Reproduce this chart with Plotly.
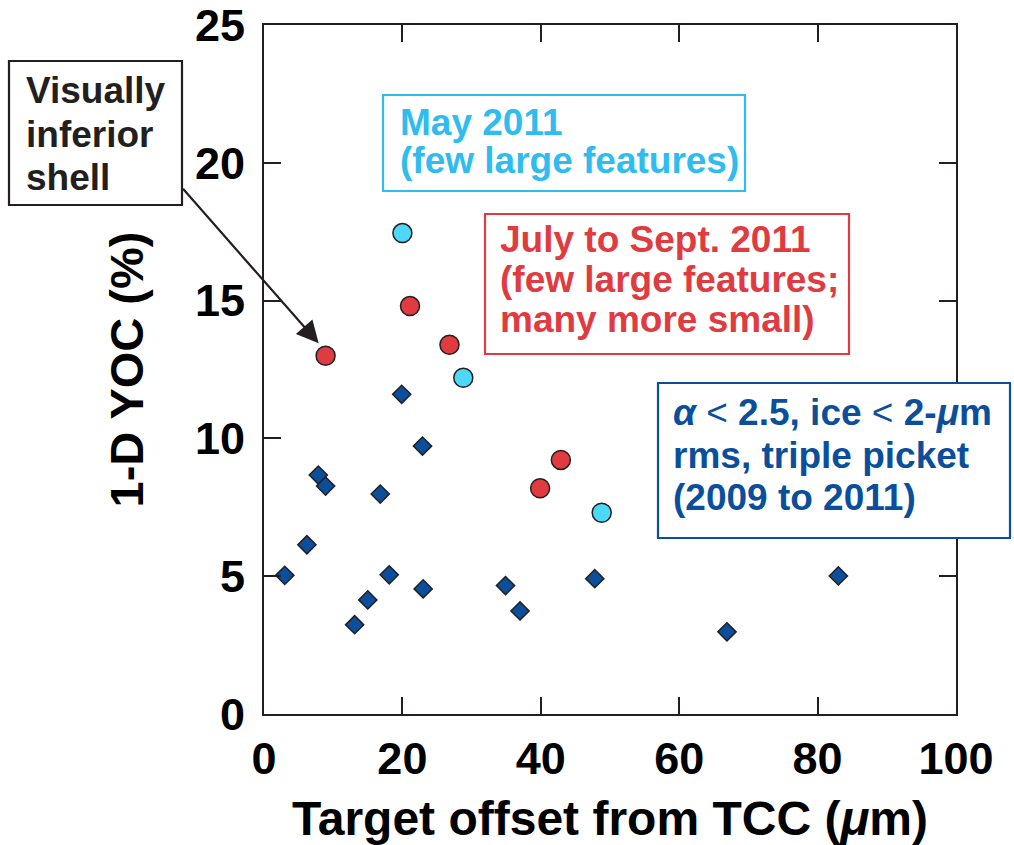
import plotly.graph_objects as go

# Target offset (um) vs 1-D YOC (%) for three shot groups
blue_x = [3.0, 6.2, 7.85, 8.9, 13.1, 15.0, 16.8, 18.1, 19.9, 22.9, 23.0, 34.9, 37.0, 47.8, 66.9, 83.0]
blue_y = [5.03, 6.14, 8.67, 8.27, 3.24, 4.14, 7.98, 5.05, 11.6, 9.72, 4.54, 4.66, 3.74, 4.91, 2.98, 5.01]
red_x = [8.9, 21.1, 26.8, 39.9, 42.9]
red_y = [13.0, 14.8, 13.4, 8.19, 9.22]
cyan_x = [20.0, 28.8, 48.8]
cyan_y = [17.45, 12.2, 7.30]

x_ticks = [0, 20, 40, 60, 80, 100]
y_ticks = [0, 5, 10, 15, 20, 25]

W, H = 1014, 845
L, R, T, B = 264, 956, 25, 714
FONT = "Liberation Sans"
INK = "#231F20"
BLUE = "#0B4F9C"
RED = "#E03B41"
CYAN_TXT = "#2FBCEE"
CYAN_FILL = "#4DD8FA"

fig = go.Figure()
fig.add_trace(go.Scatter(
    x=blue_x, y=blue_y, mode="markers", cliponaxis=False,
    marker=dict(symbol="diamond", size=14, color=BLUE, line=dict(color=INK, width=1.5)),
))
fig.add_trace(go.Scatter(
    x=red_x, y=red_y, mode="markers", cliponaxis=False,
    marker=dict(symbol="circle", size=19, color=RED, line=dict(color=INK, width=1.5)),
))
fig.add_trace(go.Scatter(
    x=cyan_x, y=cyan_y, mode="markers", cliponaxis=False,
    marker=dict(symbol="circle", size=19, color=CYAN_FILL, line=dict(color=INK, width=1.5)),
))


def px(xp):
    return (xp - L) / (R - L)


def py(yp):
    return (B - yp) / (B - T)


shapes = []
annotations = []


def text_box(x0, y0, x1, y1, color, text_left, baselines, lines, size=37):
    shapes.append(dict(type="rect", xref="paper", yref="paper",
                       x0=px(x0), x1=px(x1), y0=py(y1), y1=py(y0),
                       line=dict(color=color, width=2.2), fillcolor="white", layer="above"))
    for base, line in zip(baselines, lines):
        annotations.append(dict(
            xref="paper", yref="paper", x=px(text_left), y=py(base - 0.35 * size),
            xanchor="left", yanchor="middle", showarrow=False, text=line,
            font=dict(family=FONT, size=size, color=color, weight="bold"),
        ))


LT = "<span style='font-weight:normal'>&lt;</span>"

text_box(9, 61, 182, 205, INK, 24, [103, 147, 190],
         ["Visually", "inferior", "shell"])
text_box(383, 95, 745, 191, CYAN_TXT, 398, [135, 173],
         ["May 2011", "(few large features)"])
text_box(485, 214, 849, 354, RED, 498, [252, 292, 332],
         ["July to Sept. 2011", "(few large features;", "many more small)"])
text_box(658, 383, 1010, 538, BLUE, 671, [425, 468, 510],
         [f"<i>α</i> {LT} 2.5, ice {LT} 2-<i>μ</i>m", "rms, triple picket", "(2009 to 2011)"])

# Arrow pointing at the visually inferior shell
annotations.append(dict(
    xref="x", yref="y", x=7.9, y=13.45, ax=-137, ay=-156, text="",
    showarrow=True, arrowhead=2, arrowsize=2.0, arrowwidth=2.2, arrowcolor=INK, standoff=0,
))

axis_common = dict(
    showline=True, linecolor=INK, linewidth=2, mirror="ticks",
    ticks="inside", ticklen=17, tickwidth=2, tickcolor=INK,
    showgrid=False, zeroline=False, ticklabeloverflow="allow",
    tickfont=dict(family=FONT, size=45, color="black", weight="bold"),
)

fig.update_layout(
    width=W, height=H,
    margin=dict(l=L, r=W - R, t=T, b=H - B, autoexpand=False),
    paper_bgcolor="white", plot_bgcolor="white",
    showlegend=False,
    shapes=shapes, annotations=annotations,
    xaxis=dict(range=[0, 100], tickvals=x_ticks, ticklabelstandoff=4,
               title=dict(text="Target offset from TCC (<i>μ</i>m)", standoff=18,
                          font=dict(family=FONT, size=48, color="black", weight="bold")),
               **axis_common),
    yaxis=dict(range=[0, 25], tickvals=y_ticks, ticklabelstandoff=8,
               title=dict(text="1-D YOC (%)", standoff=36,
                          font=dict(family=FONT, size=47, color="black", weight="bold")),
               **axis_common),
)

fig.write_html("out.html")
